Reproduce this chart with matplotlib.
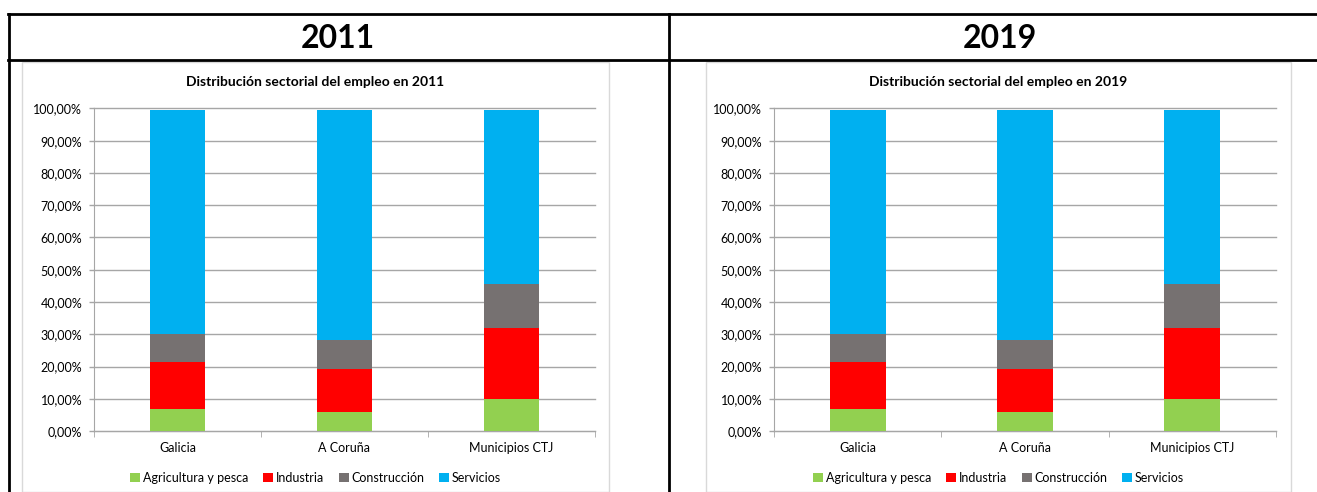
import numpy as np
import matplotlib
matplotlib.use('Agg')
import matplotlib.pyplot as plt
from matplotlib.patches import Patch, Rectangle
from matplotlib.lines import Line2D
from matplotlib.ticker import FuncFormatter, FixedLocator

plt.rcParams['font.family'] = ['Lato', 'DejaVu Sans']

years = ['2011', '2019']
regions = ['Galicia', 'A Coruña', 'Municipios CTJ']
sectors = ['Agricultura y pesca', 'Industria', 'Construcción', 'Servicios']
colors = ['#92D050', '#FF0000', '#767171', '#00B0F0']

# shares (%), same for both panels
agricultura = [6.7, 6.0, 10.0]
industria = [14.6, 13.2, 22.0]
construccion = [8.9, 9.1, 13.6]
servicios = [69.3, 71.2, 53.9]
data = {'2011': [agricultura, industria, construccion, servicios],
        '2019': [agricultura, industria, construccion, servicios]}

W, H = 1317, 492


def fx(px):
    return px / W


def fy(py):
    return 1 - py / H


def pct(v, pos):
    return ('%.2f%%' % v).replace('.', ',')


def main():
    fig = plt.figure(figsize=(W / 100, H / 100), dpi=100)

    # table borders
    lw = 2.0
    fig.add_artist(Line2D([fx(8), 1], [fy(14), fy(14)], color='black', lw=lw))
    fig.add_artist(Line2D([fx(8), 1], [fy(60), fy(60)], color='black', lw=lw))
    fig.add_artist(Line2D([fx(9), fx(9)], [fy(14), 0], color='black', lw=lw))
    fig.add_artist(Line2D([fx(669), fx(669)], [fy(14), 0], color='black', lw=lw))

    panels = [
        dict(year='2011', head_x=338, frame=(22, 609), axis=(94, 595)),
        dict(year='2019', head_x=1000, frame=(706, 1291), axis=(774, 1276)),
    ]

    for p in panels:
        yr = p['year']
        fig.text(fx(p['head_x']), fy(38), yr, ha='center', va='center',
                 fontsize=23, fontweight='bold')

        f0, f1 = p['frame']
        fig.add_artist(Rectangle((fx(f0), 0), fx(f1) - fx(f0), fy(61.5),
                                 transform=fig.transFigure, fill=False,
                                 edgecolor='#d9d9d9', lw=1))

        a0, a1 = p['axis']
        top_px, bot_px = 108.5, 431
        ax = fig.add_axes([fx(a0), fy(bot_px), fx(a1) - fx(a0),
                           (bot_px - top_px) / H])
        x = np.arange(len(regions))
        bottom = np.zeros(len(regions))
        for vals, c in zip(data[yr], colors):
            ax.bar(x, vals, width=0.335, bottom=bottom, color=c, zorder=3)
            bottom += np.array(vals)

        ax.set_xlim(-0.5, 2.5)
        ax.set_ylim(0, 100)
        ax.yaxis.set_major_locator(FixedLocator(np.arange(0, 101, 10)))
        ax.yaxis.set_major_formatter(FuncFormatter(pct))
        ax.grid(axis='y', color='#a6a6a6', lw=1, zorder=0)
        for g in ax.get_ygridlines():
            g.set_clip_on(False)
        ax.tick_params(axis='y', length=3.5, width=1, color='#a6a6a6',
                       labelsize=9, pad=5)
        ax.set_xticks(x)
        ax.set_xticklabels(regions, fontsize=9)
        ax.tick_params(axis='x', length=0, pad=8)
        ax.set_xticks([-0.5, 0.5, 1.5, 2.5], minor=True)
        ax.tick_params(axis='x', which='minor', length=4, color='#a6a6a6')
        for s in ['top', 'right']:
            ax.spines[s].set_visible(False)
        ax.spines['left'].set_color('#a6a6a6')
        ax.spines['bottom'].set_color('#a6a6a6')
        ax.set_facecolor('none')

        fig.text(fx((f0 + f1) / 2), fy(82),
                 'Distribución sectorial del empleo en ' + yr,
                 ha='center', va='center', fontsize=10, fontweight='bold')

        handles = [Patch(facecolor=c, edgecolor='none') for c in colors]
        fig.legend(handles, sectors, loc='center',
                   bbox_to_anchor=(fx((f0 + f1) / 2), fy(478)), ncol=4,
                   frameon=False, fontsize=9, handlelength=0.8,
                   handleheight=0.8, handletextpad=0.2, columnspacing=1.2)

    fig.savefig('out.png', dpi=100)


if __name__ == '__main__':
    main()
